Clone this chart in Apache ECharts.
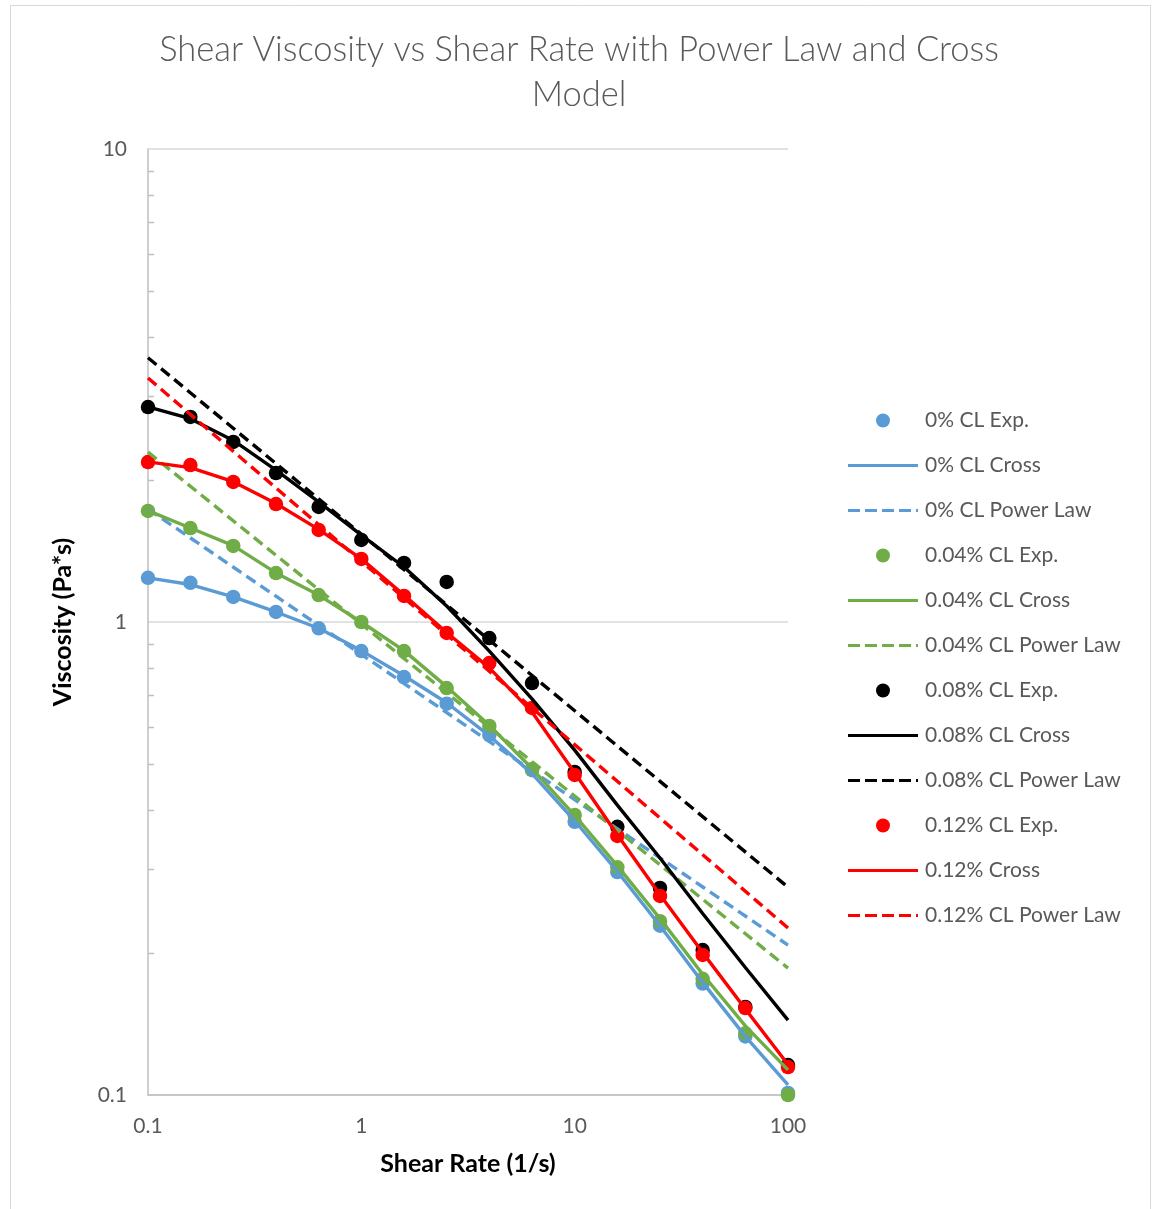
<!DOCTYPE html>
<html>
<head>
<meta charset="utf-8">
<script src="https://cdn.jsdelivr.net/npm/echarts@6/dist/echarts.min.js"></script>
<style>
  html, body { margin: 0; padding: 0; background: #fff; }
  #chart { width: 1158px; height: 1209px; }
</style>
</head>
<body>
<div id="chart"></div>
<script>
// Shear rates (1/s) at which viscosity was measured / modelled
const shearRate = [0.1, 0.158, 0.251, 0.398, 0.631, 1, 1.585, 2.512, 3.981, 6.31, 10, 15.85, 25.12, 39.81, 63.1, 100];

// Experimental viscosity (Pa*s)
const exp0  = [1.24, 1.21, 1.13, 1.05, 0.97, 0.868, 0.765, 0.672, 0.577, 0.486, 0.378, 0.296, 0.228, 0.172, 0.133, 0.101];
const exp04 = [1.717, 1.58, 1.448, 1.269, 1.14, 1.0, 0.868, 0.725, 0.603, 0.489, 0.391, 0.303, 0.233, 0.176, 0.135, 0.1];
const exp08 = [2.848, 2.713, 2.402, 2.065, 1.751, 1.491, 1.333, 1.215, 0.925, 0.743, 0.482, 0.369, 0.274, 0.2025, 0.1535, 0.1157];
const exp12 = [2.179, 2.147, 1.977, 1.776, 1.565, 1.359, 1.135, 0.948, 0.819, 0.658, 0.475, 0.353, 0.2635, 0.1977, 0.1527, 0.1146];

// Cross model fits (Pa*s)
const cross0  = [1.24, 1.20, 1.13, 1.05, 0.97, 0.87, 0.77, 0.675, 0.575, 0.478, 0.38, 0.297, 0.228, 0.173, 0.133, 0.105];
const cross04 = [1.72, 1.58, 1.45, 1.27, 1.14, 1.0, 0.87, 0.73, 0.605, 0.49, 0.39, 0.305, 0.236, 0.18, 0.14, 0.113];
const cross08 = [2.85, 2.69, 2.42, 2.095, 1.794, 1.527, 1.307, 1.081, 0.868, 0.688, 0.536, 0.41, 0.317, 0.242, 0.186, 0.144];
const cross12 = [2.18, 2.12, 1.98, 1.78, 1.57, 1.36, 1.14, 0.95, 0.80, 0.645, 0.48, 0.355, 0.265, 0.2, 0.152, 0.116];

// Power law fits, straight lines on log-log axes: values at the two ends of the range
const powerRate = [0.1, 100];
const power0  = [1.733, 0.2075];
const power04 = [2.287, 0.1855];
const power08 = [3.62, 0.275];
const power12 = [3.28, 0.2255];

// Minor tick positions on the viscosity axis
const minorTicks = [0.2, 0.3, 0.4, 0.5, 0.6, 0.7, 0.8, 0.9, 2, 3, 4, 5, 6, 7, 8, 9];

const BLUE = '#5B9BD5', GREEN = '#70AD47', BLACK = '#000000', RED = '#FF0000';
const TEXT = '#595959';
const FONT = 'Lato, "Open Sans", sans-serif';

// Legend keys for the model curves: a solid bar and a dashed bar, 70 px wide
const SOLID_KEY = 'path://M0,0H70V3H0Z';
const DASH_KEY = 'path://M0,0H12V3H0Z M17,0H29V3H17Z M34,0H46V3H34Z M51,0H63V3H51Z M68,0H70V3H68Z';

const pairs = (xs, ys) => xs.map((x, i) => [x, ys[i]]);

function expSeries(name, color, ys) {
  return {
    name, type: 'scatter', data: pairs(shearRate, ys),
    symbol: 'circle', symbolSize: 14.5,
    itemStyle: { color, opacity: 1 },
    legendKey: 'circle'
  };
}
function crossSeries(name, color, ys) {
  return {
    name, type: 'line', data: pairs(shearRate, ys),
    symbol: 'none', showSymbol: false,
    lineStyle: { color, width: 3.4 },
    itemStyle: { color },
    legendKey: SOLID_KEY
  };
}
function powerSeries(name, color, ys) {
  return {
    name, type: 'line', data: pairs(powerRate, ys),
    symbol: 'none', showSymbol: false,
    lineStyle: { color, width: 3.4, type: [11, 6] },
    itemStyle: { color },
    legendKey: DASH_KEY
  };
}

const seriesDefs = [
  expSeries('0% CL Exp.', BLUE, exp0),
  crossSeries('0% CL Cross', BLUE, cross0),
  powerSeries('0% CL Power Law', BLUE, power0),
  expSeries('0.04% CL Exp.', GREEN, exp04),
  crossSeries('0.04% CL Cross', GREEN, cross04),
  powerSeries('0.04% CL Power Law', GREEN, power04),
  expSeries('0.08% CL Exp.', BLACK, exp08),
  crossSeries('0.08% CL Cross', BLACK, cross08),
  powerSeries('0.08% CL Power Law', BLACK, power08),
  expSeries('0.12% CL Exp.', RED, exp12),
  crossSeries('0.12% Cross', RED, cross12),
  powerSeries('0.12% CL Power Law', RED, power12)
];

const legendData = seriesDefs.map(s => ({ name: s.name, icon: s.legendKey }));
const series = seriesDefs.map(({ legendKey, ...rest }) => rest);

const chart = echarts.init(document.getElementById('chart'), null, { renderer: 'canvas' });

chart.setOption({
  backgroundColor: '#ffffff',
  animation: false,
  title: {
    text: 'Shear Viscosity vs Shear Rate with Power Law and Cross\nModel',
    left: 'center',
    top: 22,
    textStyle: { fontFamily: FONT, fontWeight: 300, fontSize: 34.5, lineHeight: 45, color: TEXT }
  },
  legend: {
    orient: 'vertical',
    left: 843,
    top: 405,
    itemWidth: 70,
    itemHeight: 14,
    itemGap: 24,
    textStyle: { fontFamily: FONT, fontSize: 21, lineHeight: 14, color: TEXT, padding: [0, 0, 0, 2] },
    data: legendData
  },
  grid: { left: 148, right: 370, top: 149, bottom: 114 },
  xAxis: {
    type: 'log', logBase: 10, min: 0.1, max: 100,
    name: 'Shear Rate (1/s)', nameLocation: 'middle', nameGap: 56,
    nameTextStyle: { fontFamily: FONT, fontWeight: 'bold', fontSize: 25, color: '#000' },
    axisLine: { show: true, lineStyle: { color: '#bfbfbf', width: 1.5 } },
    axisTick: { show: false },
    splitLine: { show: false },
    axisLabel: { fontFamily: FONT, fontSize: 21, color: TEXT, margin: 21 }
  },
  yAxis: {
    type: 'log', logBase: 10, min: 0.1, max: 10,
    name: 'Viscosity (Pa*s)', nameLocation: 'middle', nameGap: 73,
    nameTextStyle: { fontFamily: FONT, fontWeight: 'bold', fontSize: 25, color: '#000' },
    axisLine: { show: true, lineStyle: { color: '#bfbfbf', width: 1.5 } },
    axisTick: { show: false },
    splitLine: { show: true, lineStyle: { color: '#d9d9d9', width: 1.5 } },
    axisLabel: { fontFamily: FONT, fontSize: 21, color: TEXT, margin: 21 }
  },
  series
});

// Outer chart border and inward minor ticks on the viscosity axis
function drawExtras() {
  const elements = [{
    type: 'rect', silent: true, z: -10,
    shape: { x: 10.5, y: 5.5, width: 1140, height: 1215 },
    style: { fill: null, stroke: '#d9d9d9', lineWidth: 1 }
  }];
  minorTicks.forEach(v => {
    const p = chart.convertToPixel({ xAxisIndex: 0, yAxisIndex: 0 }, [0.1, v]);
    const y = Math.round(p[1]) + 0.5;
    elements.push({
      type: 'line', silent: true, z: 5,
      shape: { x1: p[0], y1: y, x2: p[0] + 6, y2: y },
      style: { stroke: '#bfbfbf', lineWidth: 1.5 }
    });
  });
  chart.setOption({ graphic: { elements } });
}
drawExtras();
</script>
</body>
</html>
